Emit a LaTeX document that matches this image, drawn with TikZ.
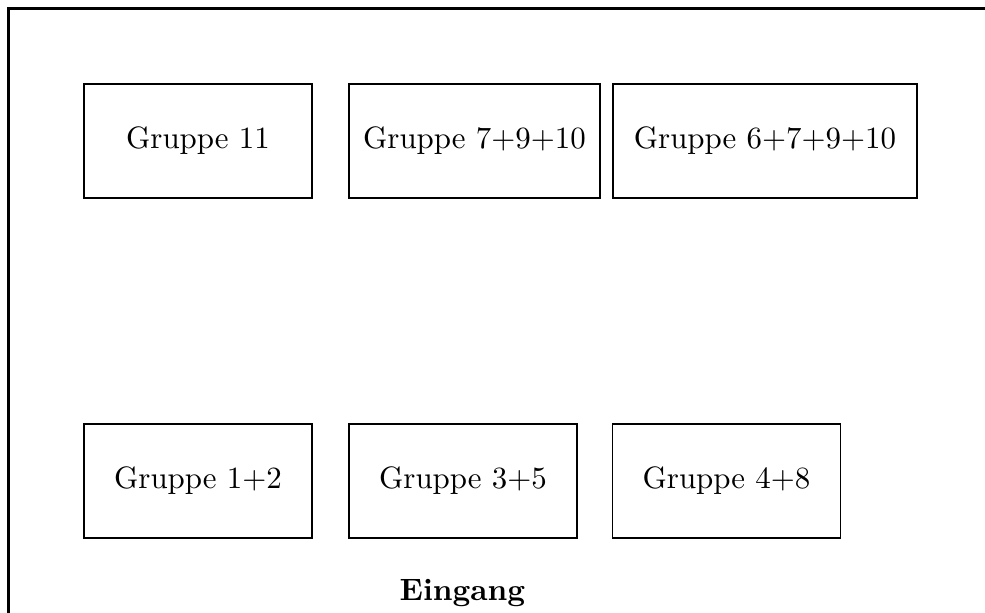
\documentclass[tikz,border=0pt]{standalone}
\begin{document}
\begin{tikzpicture}[x=0.3236pt,y=-0.3236pt,
  gruppe/.style={draw,line width=0.6pt,minimum height=114*0.3236pt,inner sep=0pt,font=\normalsize},
  frameline/.style={line width=0.75pt}]
\useasboundingbox (0,0) rectangle (985,613);
\coordinate (fl) at (8.5,613);
\coordinate (ftl) at (8.5,8.5);
\coordinate (fr) at (985,8.5);
\draw[frameline] (fl) -- (ftl) -- (fr);
\node[gruppe,minimum width=228*0.3236pt] (g11) at (198,141) {Gruppe 11};
\node[gruppe,minimum width=251*0.3236pt] (g7910) at (474.5,141) {Gruppe 7+9+10};
\node[gruppe,minimum width=304*0.3236pt] (g67910) at (765,141) {Gruppe 6+7+9+10};
\node[gruppe,minimum width=228*0.3236pt] (g12) at (198,481) {Gruppe 1+2};
\node[gruppe,minimum width=228*0.3236pt] (g35) at (463,481) {Gruppe 3+5};
\node[gruppe,minimum width=228*0.3236pt] (g48) at (726.5,481) {Gruppe 4+8};
\node[font=\bfseries,inner sep=0pt] (eing) at (462.5,593) {Eingang};
\end{tikzpicture}
\end{document}
